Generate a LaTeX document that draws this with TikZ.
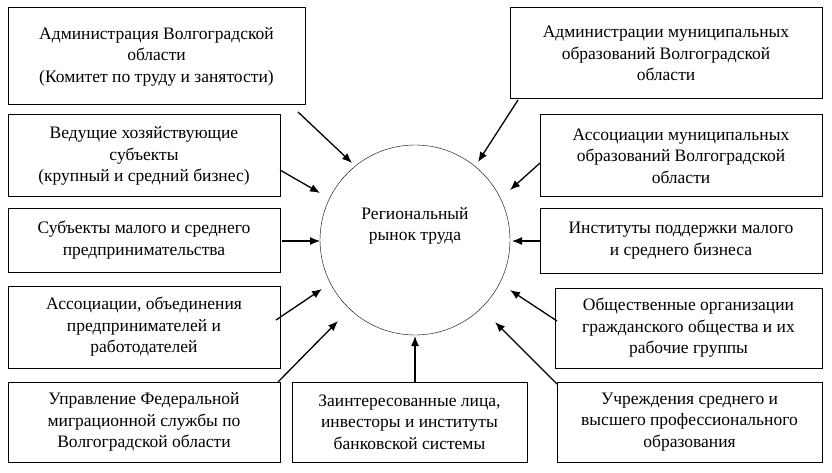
\documentclass[tikz,border=0pt]{standalone}
\usepackage{fontspec}
\setmainfont{Liberation Serif}
\usetikzlibrary{arrows.meta}
\begin{document}
\begin{tikzpicture}[x=1pt,y=-1pt,
 box/.style={draw,line width=1pt,align=center,font=\fontsize{17.5}{21.5}\selectfont,inner sep=2pt},
 arr/.style={-{Latex[length=10pt,width=8pt]},line width=1.3pt}]
\useasboundingbox (0,0) rectangle (832,473);
\node[draw,circle,minimum size=190pt,inner sep=0pt] (c) at (415,240) {};
\node[font=\fontsize{17.5}{21.5}\selectfont,align=center] (ct) at (415,226) {Региональный\\рынок труда};
\node[box,minimum width=297pt,minimum height=97pt] (l1) at (156.5,56.5) {Администрация Волгоградской\\области\\(Комитет по труду и занятости)};
\node[box,minimum width=272pt,minimum height=82pt] (l2) at (144,156) {Ведущие хозяйствующие\\субъекты\\(крупный и средний бизнес)};
\node[box,minimum width=272pt,minimum height=64pt] (l3) at (144,240) {Субъекты малого и среднего\\предпринимательства};
\node[box,minimum width=272pt,minimum height=82pt] (l4) at (144,327) {Ассоциации, объединения\\предпринимателей и\\работодателей};
\node[box,minimum width=272pt,minimum height=80pt] (l5) at (144,422) {Управление Федеральной\\миграционной службы по\\Волгоградской области};
\node[box,minimum width=235pt,minimum height=80pt] (b) at (409.5,422) {Заинтересованные лица,\\инвесторы и институты\\банковской системы};
\node[box,minimum width=312pt,minimum height=91pt] (r1) at (666,53.5) {Администрации муниципальных\\образований Волгоградской\\области};
\node[box,minimum width=282pt,minimum height=82pt] (r2) at (681,156) {Ассоциации муниципальных\\образований Волгоградской\\области};
\node[box,minimum width=282pt,minimum height=65pt] (r3) at (681,240.5) {Институты поддержки малого\\и среднего бизнеса};
\node[box,minimum width=267pt,minimum height=80pt] (r4) at (688.5,328) {Общественные организации\\гражданского общества и их\\рабочие группы};
\node[box,minimum width=265pt,minimum height=80pt] (r5) at (689.5,422) {Учреждения среднего и\\высшего профессионального\\образования};
\foreach \n/\a/\b/\c/\d in {l1/298/112/352/163, l2/280/170/320/193, l3/282/241/320/241, l4/276/320/322/289, l5/278/382/338/321, b/415/382/415/336, r1/518/100/478/162, r2/540/163/510/190, r3/540/241/512/241, r4/557/321/510/290, r5/557/384/495/322}{
 \coordinate (s\n) at (\a,\b); \coordinate (e\n) at (\c,\d);
 \draw[arr] (s\n) -- (e\n);}
\end{tikzpicture}
\end{document}
